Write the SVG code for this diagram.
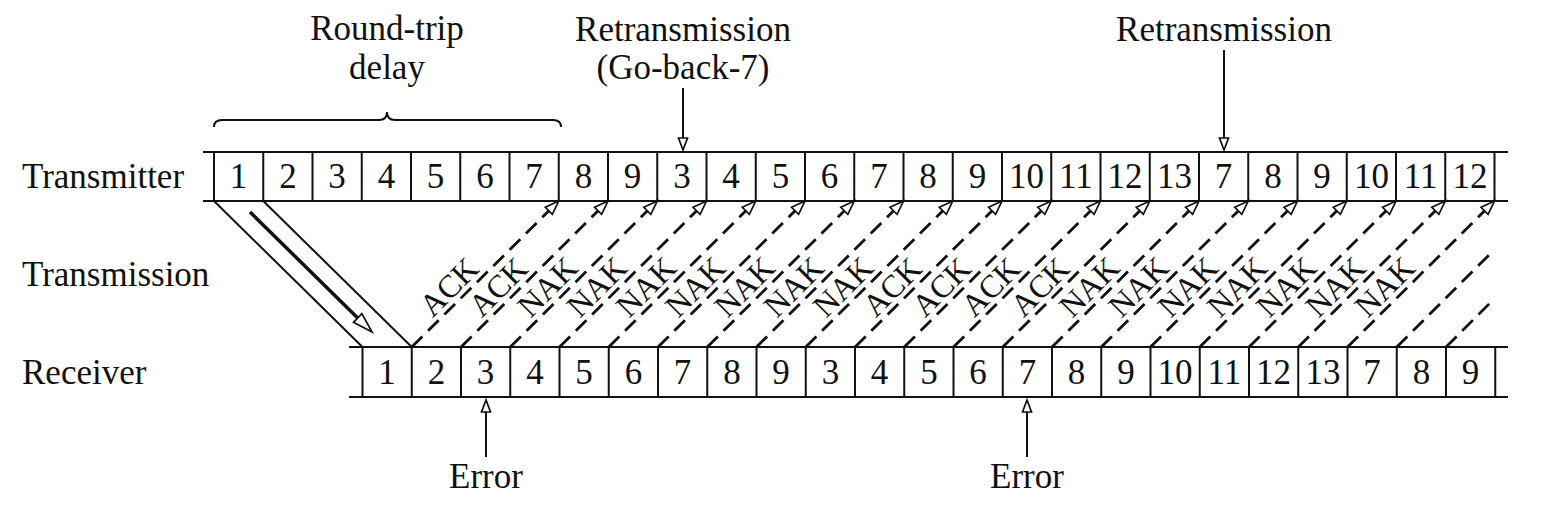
<svg xmlns="http://www.w3.org/2000/svg" width="1542" height="515" viewBox="0 0 1542 515">
<defs>
<style>
.t{font-family:"Liberation Serif","Times New Roman",serif;font-size:35px;fill:#111}
.c{text-anchor:middle}
.lb{font-family:"Liberation Serif","Times New Roman",serif;font-size:32px;fill:#111;text-anchor:middle}
.ln{stroke:#111;stroke-width:2;fill:none}
.cell{stroke:#111;stroke-width:2;fill:none}
.dash{stroke:#111;stroke-width:2.8;fill:none;stroke-dasharray:15 8}
.head{fill:#fff;stroke:#111;stroke-width:1.7;stroke-dasharray:none}
</style>
<marker id="ah" viewBox="-16 -7 18 14" refX="0" refY="0" markerWidth="18" markerHeight="14" markerUnits="userSpaceOnUse" orient="auto">
<path class="head" d="M0,0 L-14,-5 L-14,5 Z"/>
</marker>
</defs>

<g id="labels">
<text class="t" x="22" y="188">Transmitter</text>
<text class="t" x="22" y="286">Transmission</text>
<text class="t" x="22" y="384">Receiver</text>
</g>

<g id="round-trip">
<text class="t c" x="387" y="40">Round-trip</text>
<text class="t c" x="387" y="79">delay</text>
<path class="ln" d="M214,127 Q214,120 222,120 L379,120 Q387,120 387,112 Q387,120 395,120 L553,120 Q561,120 561,127"/>
</g>

<g id="retrans1">
<text class="t c" x="683" y="41">Retransmission</text>
<text class="t c" x="683" y="79">(Go-back-7)</text>
</g>
<g id="retrans2">
<text class="t c" x="1224" y="41">Retransmission</text>
</g>
<g id="error1">
<text class="t c" x="486" y="488">Error</text>
</g>
<g id="error2">
<text class="t c" x="1027" y="488">Error</text>
</g>

<g id="transmitter">
<line class="ln" x1="203" y1="152" x2="1508" y2="152"/>
<line class="ln" x1="203" y1="201" x2="1508" y2="201"/>
<path class="cell" d="M214,152V201M263.25,152V201M312.5,152V201M361.75,152V201M411,152V201M460.25,152V201M509.5,152V201M558.75,152V201M608,152V201M657.25,152V201M706.5,152V201M755.75,152V201M805,152V201M854.25,152V201M903.5,152V201M952.75,152V201M1002,152V201M1051.25,152V201M1100.5,152V201M1149.75,152V201M1199,152V201M1248.25,152V201M1297.5,152V201M1346.75,152V201M1396,152V201M1445.25,152V201M1494.5,152V201"/>
<g class="t c">
<text x="238.6" y="188">1</text><text x="287.9" y="188">2</text><text x="337.1" y="188">3</text><text x="386.4" y="188">4</text><text x="435.6" y="188">5</text><text x="484.9" y="188">6</text><text x="534.1" y="188">7</text><text x="583.4" y="188">8</text><text x="632.6" y="188">9</text><text x="681.9" y="188">3</text><text x="731.1" y="188">4</text><text x="780.4" y="188">5</text><text x="829.6" y="188">6</text><text x="878.9" y="188">7</text><text x="928.1" y="188">8</text><text x="977.4" y="188">9</text><text x="1026.6" y="188">10</text><text x="1075.9" y="188">11</text><text x="1125.1" y="188">12</text><text x="1174.4" y="188">13</text><text x="1223.6" y="188">7</text><text x="1272.9" y="188">8</text><text x="1322.1" y="188">9</text><text x="1371.4" y="188">10</text><text x="1420.6" y="188">11</text><text x="1469.9" y="188">12</text>
</g>
</g>

<g id="receiver">
<line class="ln" x1="349" y1="347" x2="1508" y2="347"/>
<line class="ln" x1="349" y1="397" x2="1508" y2="397"/>
<path class="cell" d="M362.5,347V397M411.75,347V397M461,347V397M510.25,347V397M559.5,347V397M608.75,347V397M658,347V397M707.25,347V397M756.5,347V397M805.75,347V397M855,347V397M904.25,347V397M953.5,347V397M1002.75,347V397M1052,347V397M1101.25,347V397M1150.5,347V397M1199.75,347V397M1249,347V397M1298.25,347V397M1347.5,347V397M1396.75,347V397M1446,347V397M1495.25,347V397"/>
<g class="t c">
<text x="387.1" y="384">1</text><text x="436.4" y="384">2</text><text x="485.6" y="384">3</text><text x="534.9" y="384">4</text><text x="584.1" y="384">5</text><text x="633.4" y="384">6</text><text x="682.6" y="384">7</text><text x="731.9" y="384">8</text><text x="781.1" y="384">9</text><text x="830.4" y="384">3</text><text x="879.6" y="384">4</text><text x="928.9" y="384">5</text><text x="978.1" y="384">6</text><text x="1027.4" y="384">7</text><text x="1076.6" y="384">8</text><text x="1125.9" y="384">9</text><text x="1175.1" y="384">10</text><text x="1224.4" y="384">11</text><text x="1273.6" y="384">12</text><text x="1322.9" y="384">13</text><text x="1372.1" y="384">7</text><text x="1421.4" y="384">8</text><text x="1470.6" y="384">9</text>
</g>
</g>

<g id="connectors">
<line class="ln" x1="214" y1="201" x2="362.5" y2="347"/>
<line class="ln" x1="263.25" y1="201" x2="411.75" y2="347"/>
<line stroke="#111" stroke-width="3.5" x1="250" y1="212" x2="357.7" y2="318"/>
<polygon class="head" points="372,332 353.5,322.3 361.9,313.7"/>

<line class="ln" x1="683" y1="88" x2="683" y2="138"/>
<polygon class="head" points="683,150 678.5,138 687.5,138"/>
<line class="ln" x1="1224" y1="50" x2="1224" y2="138"/>
<polygon class="head" points="1224,150 1219.5,138 1228.5,138"/>
<line class="ln" x1="486" y1="457" x2="486" y2="412"/>
<polygon class="head" points="486,400 481.5,412 490.5,412"/>
<line class="ln" x1="1027" y1="457" x2="1027" y2="412"/>
<polygon class="head" points="1027,400 1022.5,412 1031.5,412"/>

<g marker-end="url(#ah)">
<line class="dash" x1="411.75" y1="347" x2="558.75" y2="201"/>
<line class="dash" x1="461" y1="347" x2="608" y2="201"/>
<line class="dash" x1="510.25" y1="347" x2="657.25" y2="201"/>
<line class="dash" x1="559.5" y1="347" x2="706.5" y2="201"/>
<line class="dash" x1="608.75" y1="347" x2="755.75" y2="201"/>
<line class="dash" x1="658" y1="347" x2="805" y2="201"/>
<line class="dash" x1="707.25" y1="347" x2="854.25" y2="201"/>
<line class="dash" x1="756.5" y1="347" x2="903.5" y2="201"/>
<line class="dash" x1="805.75" y1="347" x2="952.75" y2="201"/>
<line class="dash" x1="855" y1="347" x2="1002" y2="201"/>
<line class="dash" x1="904.25" y1="347" x2="1051.25" y2="201"/>
<line class="dash" x1="953.5" y1="347" x2="1100.5" y2="201"/>
<line class="dash" x1="1002.75" y1="347" x2="1149.75" y2="201"/>
<line class="dash" x1="1052" y1="347" x2="1199" y2="201"/>
<line class="dash" x1="1101.25" y1="347" x2="1248.25" y2="201"/>
<line class="dash" x1="1150.5" y1="347" x2="1297.5" y2="201"/>
<line class="dash" x1="1199.75" y1="347" x2="1346.75" y2="201"/>
<line class="dash" x1="1249" y1="347" x2="1396" y2="201"/>
<line class="dash" x1="1298.25" y1="347" x2="1445.25" y2="201"/>
<line class="dash" x1="1347.5" y1="347" x2="1494.5" y2="201"/>
</g>
<line class="dash" x1="1396.75" y1="347" x2="1494.5" y2="249.5"/>
<line class="dash" x1="1446" y1="347" x2="1494.5" y2="298.5"/>

<g class="lb">
<text transform="translate(456.5,294.5) rotate(-45)">ACK</text>
<text transform="translate(505.75,294.5) rotate(-45)">ACK</text>
<text transform="translate(555,294.5) rotate(-45)">NAK</text>
<text transform="translate(604.25,294.5) rotate(-45)">NAK</text>
<text transform="translate(653.5,294.5) rotate(-45)">NAK</text>
<text transform="translate(702.75,294.5) rotate(-45)">NAK</text>
<text transform="translate(752,294.5) rotate(-45)">NAK</text>
<text transform="translate(801.25,294.5) rotate(-45)">NAK</text>
<text transform="translate(850.5,294.5) rotate(-45)">NAK</text>
<text transform="translate(899.75,294.5) rotate(-45)">ACK</text>
<text transform="translate(949,294.5) rotate(-45)">ACK</text>
<text transform="translate(998.25,294.5) rotate(-45)">ACK</text>
<text transform="translate(1047.5,294.5) rotate(-45)">ACK</text>
<text transform="translate(1096.75,294.5) rotate(-45)">NAK</text>
<text transform="translate(1146,294.5) rotate(-45)">NAK</text>
<text transform="translate(1195.25,294.5) rotate(-45)">NAK</text>
<text transform="translate(1244.5,294.5) rotate(-45)">NAK</text>
<text transform="translate(1293.75,294.5) rotate(-45)">NAK</text>
<text transform="translate(1343,294.5) rotate(-45)">NAK</text>
<text transform="translate(1392.25,294.5) rotate(-45)">NAK</text>
</g>
</g>
</svg>
